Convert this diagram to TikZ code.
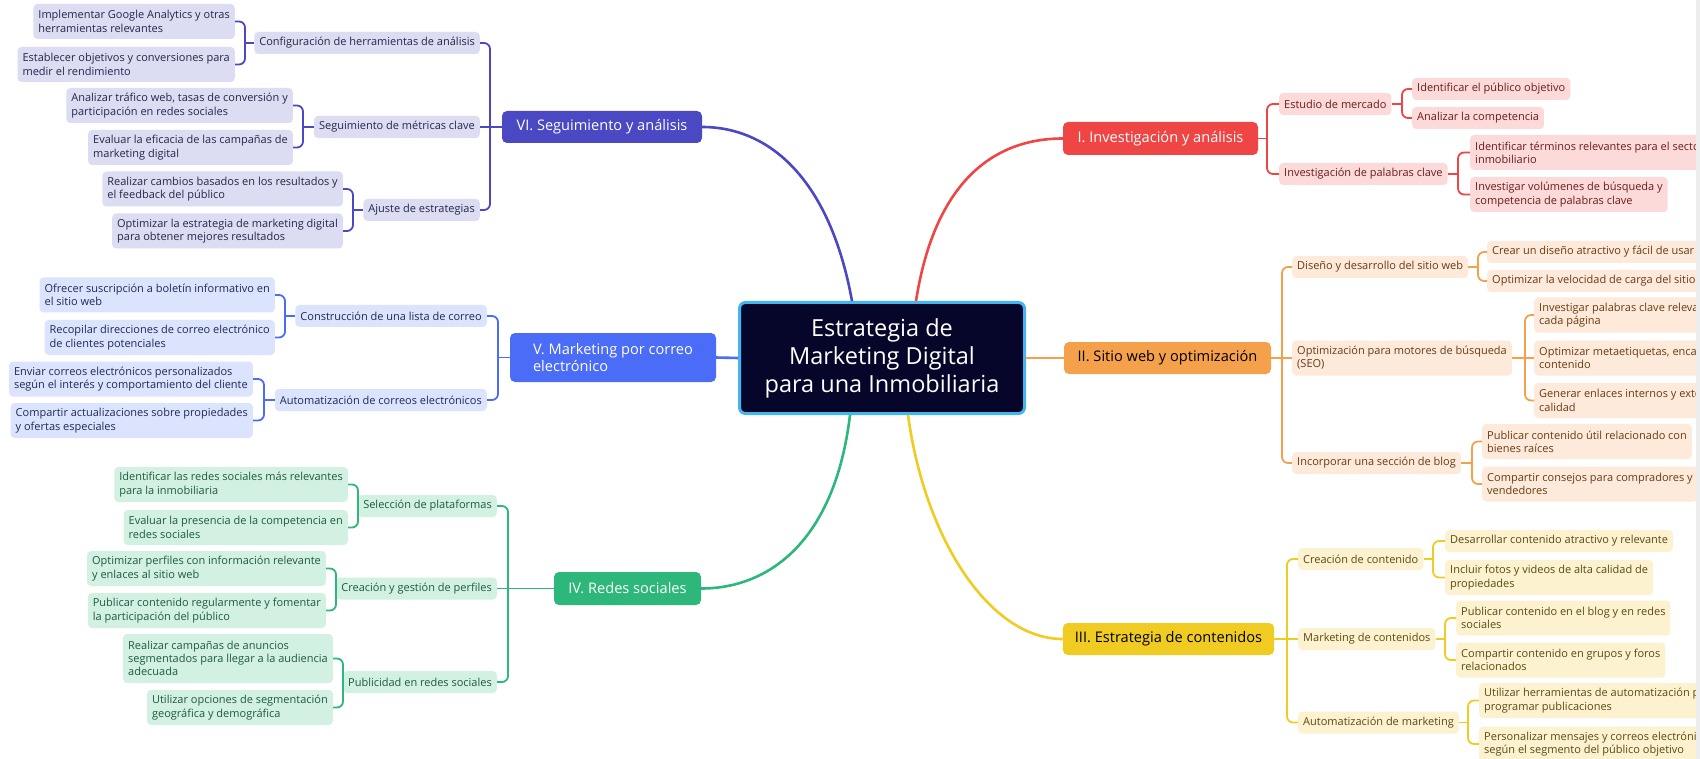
\documentclass[tikz,border=0pt]{standalone}
\usepackage{fontspec}
\setmainfont{Open Sans}
\usetikzlibrary{calc}
\definecolor{cVI}{HTML}{4B48C4}\definecolor{lVI}{HTML}{DCDCF3}\definecolor{tVI}{HTML}{26264A}
\definecolor{cV}{HTML}{4A6CF7}\definecolor{lV}{HTML}{DCE3FD}\definecolor{tV}{HTML}{1F2A55}
\definecolor{cIV}{HTML}{2DB77A}\definecolor{lIV}{HTML}{D2F1E3}\definecolor{tIV}{HTML}{1D5A3E}
\definecolor{cI}{HTML}{F04545}\definecolor{lI}{HTML}{FCDADA}\definecolor{tI}{HTML}{6A1C1C}
\definecolor{cII}{HTML}{F5A04B}\definecolor{lII}{HTML}{FDEADB}\definecolor{tII}{HTML}{6B3A12}
\definecolor{cIII}{HTML}{F0CC22}\definecolor{lIII}{HTML}{FCF2D0}\definecolor{tIII}{HTML}{5A4A10}
\definecolor{ctrfill}{HTML}{06062A}\definecolor{ctrdraw}{HTML}{45B5EE}
\tikzset{
  leaf/.style={rounded corners=4pt, inner xsep=5pt, inner ysep=3pt, align=left,
    font=\fontsize{11}{13.3}\selectfont, minimum height=22pt},
  two/.style={minimum height=35pt},
  three/.style={minimum height=49pt},
  mainnode/.style={rounded corners=5pt, minimum height=32pt, inner xsep=12pt,
    font=\fontsize{14.6}{17.5}\selectfont, align=left},
  L6/.style={leaf, fill=lVI, text=tVI, anchor=east},
  L5/.style={leaf, fill=lV, text=tV, anchor=east},
  L4/.style={leaf, fill=lIV, text=tIV, anchor=east},
  R1/.style={leaf, fill=lI, text=tI, anchor=west},
  R2/.style={leaf, fill=lII, text=tII, anchor=west},
  R3/.style={leaf, fill=lIII, text=tIII, anchor=west},
  br/.style={line width=1.8pt, rounded corners=6pt},
  curve/.style={line width=2.6pt},
}
\begin{document}
\begin{tikzpicture}[x=1pt,y=-1pt]
\useasboundingbox (0,0) rectangle (1700,759);
\fill[white] (0,0) rectangle (1700,759);
\begin{scope}
\clip (0,0) rectangle (1696,759);
% centre
\node[draw=ctrdraw, line width=3pt, fill=ctrfill, text=white, rounded corners=6pt,
  minimum width=285pt, minimum height=111pt, align=center,
  font=\fontsize{23.5}{28}\selectfont] (ctr) at (882,358)
  {Estrategia de\\Marketing Digital\\para una Inmobiliaria};
% main nodes
\node[mainnode, fill=cVI, text=white, minimum width=200pt] (m6) at (602,127) {VI. Seguimiento y análisis};
\node[mainnode, fill=cV, text=white, minimum width=206pt, minimum height=49pt] (m5) at (613,357.5) {V. Marketing por correo\\electrónico};
\node[mainnode, fill=cIV, text=white, minimum width=147pt, minimum height=33pt] (m4) at (627.5,588.5) {IV. Redes sociales};
\node[mainnode, fill=cI, text=white, minimum width=195pt, minimum height=33pt] (m1) at (1160.5,138.5) {I. Investigación y análisis};
\node[mainnode, fill=cII, text=black, minimum width=207pt] (m2) at (1167.5,358) {II. Sitio web y optimización};
\node[mainnode, fill=cIII, text=black, minimum width=209pt] (m3) at (1168.5,639) {III. Estrategia de contenidos};
% main curves
\draw[curve, cVI] ($(ctr.north)+(-30,0)$) .. controls (830,180) and (770,127) .. (m6.east);
\draw[curve, cI] ($(ctr.north)+(34,0)$) .. controls (935,180) and (995,138.5) .. (m1.west);
\draw[curve, cIV] ($(ctr.south)+(-32,0)$) .. controls (835,540) and (770,588.5) .. (m4.east);
\draw[curve, cIII] ($(ctr.south)+(26,0)$) .. controls (925,540) and (990,639) .. (m3.west);
\draw[curve, cV] (ctr.west) -- (m5.east);
\draw[curve, cII] (ctr.east) -- (m2.west);

% ===== VI =====
\node[L6] (s61) at (480,43) {Configuración de herramientas de análisis};
\node[L6] (s62) at (480,127) {Seguimiento de métricas clave};
\node[L6] (s63) at (480,210) {Ajuste de estrategias};
\node[L6,two] (l611) at (235,21.5) {Implementar Google Analytics y otras\\herramientas relevantes};
\node[L6,two] (l612) at (235,64.5) {Establecer objetivos y conversiones para\\medir el rendimiento};
\node[L6,two] (l621) at (293,105.5) {Analizar tráfico web, tasas de conversión y\\participación en redes sociales};
\node[L6,two] (l622) at (293,147.5) {Evaluar la eficacia de las campañas de\\marketing digital};
\node[L6,two] (l631) at (343,189) {Realizar cambios basados en los resultados y\\el feedback del público};
\node[L6,two] (l632) at (343,231) {Optimizar la estrategia de marketing digital\\para obtener mejores resultados};
\coordinate (b6) at (490,127);
\coordinate (k61) at (245,43);
\coordinate (k62) at (303,127);
\coordinate (k63) at (353,210);
\begin{scope}[draw=cVI]
\draw[br] (m6.west) -- (b6);
\draw[br] (s61.east) -| (b6) |- (s63.east);
\draw[br] (s62.east) -- (b6);
\draw[br] (s61.west) -- (k61);
\draw[br] (l611.east) -| (k61) |- (l612.east);
\draw[br] (s62.west) -- (k62);
\draw[br] (l621.east) -| (k62) |- (l622.east);
\draw[br] (s63.west) -- (k63);
\draw[br] (l631.east) -| (k63) |- (l632.east);
\end{scope}

% ===== V =====
\node[L5] (s51) at (487,316) {Construcción de una lista de correo};
\node[L5] (s52) at (487,400) {Automatización de correos electrónicos};
\node[L5,two] (l511) at (275,295) {Ofrecer suscripción a boletín informativo en\\el sitio web};
\node[L5,two] (l512) at (275,337.5) {Recopilar direcciones de correo electrónico\\de clientes potenciales};
\node[L5,two] (l521) at (253,379) {Enviar correos electrónicos personalizados\\según el interés y comportamiento del cliente};
\node[L5,two] (l522) at (253,420.5) {Compartir actualizaciones sobre propiedades\\y ofertas especiales};
\coordinate (b5) at (498,357.5);
\coordinate (k51) at (285,316);
\coordinate (k52) at (264,400);
\begin{scope}[draw=cV]
\draw[br] (m5.west) -- (b5);
\draw[br] (s51.east) -| (b5) |- (s52.east);
\draw[br] (s51.west) -- (k51);
\draw[br] (l511.east) -| (k51) |- (l512.east);
\draw[br] (s52.west) -- (k52);
\draw[br] (l521.east) -| (k52) |- (l522.east);
\end{scope}

% ===== IV =====
\node[L4] (s41) at (497,506) {Selección de plataformas};
\node[L4] (s42) at (497,588.5) {Creación y gestión de perfiles};
\node[L4] (s43) at (497,682) {Publicidad en redes sociales};
\node[L4,two] (l411) at (348,484.5) {Identificar las redes sociales más relevantes\\para la inmobiliaria};
\node[L4,two] (l412) at (348,527.5) {Evaluar la presencia de la competencia en\\redes sociales};
\node[L4,two] (l421) at (326,568.5) {Optimizar perfiles con información relevante\\y enlaces al sitio web};
\node[L4,two] (l422) at (326,610.5) {Publicar contenido regularmente y fomentar\\la participación del público};
\node[L4,three] (l431) at (333,658.5) {Realizar campañas de anuncios\\segmentados para llegar a la audiencia\\adecuada};
\node[L4,two] (l432) at (333,707.5) {Utilizar opciones de segmentación\\geográfica y demográfica};
\coordinate (b4) at (508,588.5);
\coordinate (k41) at (358,506);
\coordinate (k42) at (336,588.5);
\coordinate (k43) at (343,682);
\begin{scope}[draw=cIV]
\draw[br] (m4.west) -- (b4);
\draw[br] (s41.east) -| (b4) |- (s43.east);
\draw[br] (s42.east) -- (b4);
\draw[br] (s41.west) -- (k41);
\draw[br] (l411.east) -| (k41) |- (l412.east);
\draw[br] (s42.west) -- (k42);
\draw[br] (l421.east) -| (k42) |- (l422.east);
\draw[br] (s43.west) -- (k43);
\draw[br] (l431.east) -| (k43) |- (l432.east);
\end{scope}

% ===== I =====
\node[R1] (s11) at (1279,104) {Estudio de mercado};
\node[R1] (s12) at (1279,174) {Investigación de palabras clave};
\node[R1] (l111) at (1412,89) {Identificar el público objetivo};
\node[R1] (l112) at (1412,118) {Analizar la competencia};
\node[R1,two] (l121) at (1470,152.5) {Identificar términos relevantes para el sector\\inmobiliario};
\node[R1,two] (l122) at (1470,194.5) {Investigar volúmenes de búsqueda y\\competencia de palabras clave};
\coordinate (b1) at (1267,138.5);
\coordinate (k11) at (1402,104);
\coordinate (k12) at (1458,174);
\begin{scope}[draw=cI]
\draw[br] (m1.east) -- (b1);
\draw[br] (s11.west) -| (b1) |- (s12.west);
\draw[br] (s11.east) -- (k11);
\draw[br] (l111.west) -| (k11) |- (l112.west);
\draw[br] (s12.east) -- (k12);
\draw[br] (l121.west) -| (k12) |- (l122.west);
\end{scope}

% ===== II =====
\node[R2] (s21) at (1292,267) {Diseño y desarrollo del sitio web};
\node[R2,two] (s22) at (1292,358) {Optimización para motores de búsqueda\\(SEO)};
\node[R2] (s23) at (1292,463) {Incorporar una sección de blog};
\node[R2] (l211) at (1487,252) {Crear un diseño atractivo y fácil de usar};
\node[R2] (l212) at (1487,281) {Optimizar la velocidad de carga del sitio};
\node[R2,two] (l221) at (1534,315) {Investigar palabras clave relevantes para\\cada página};
\node[R2,two] (l222) at (1534,358) {Optimizar metaetiquetas, encabezados y\\contenido};
\node[R2,two] (l223) at (1534,400.5) {Generar enlaces internos y externos de\\calidad};
\node[R2,two] (l231) at (1482,441.5) {Publicar contenido útil relacionado con\\bienes raíces};
\node[R2,two] (l232) at (1482,484) {Compartir consejos para compradores y\\vendedores};
\coordinate (b2) at (1282,358);
\coordinate (k21) at (1478,267);
\coordinate (k22) at (1525,358);
\coordinate (k23) at (1472,463);
\begin{scope}[draw=cII]
\draw[br] (m2.east) -- (b2);
\draw[br] (s21.west) -| (b2) |- (s23.west);
\draw[br] (s22.west) -- (b2);
\draw[br] (s21.east) -- (k21);
\draw[br] (l211.west) -| (k21) |- (l212.west);
\draw[br] (s22.east) -- (k22);
\draw[br] (l221.west) -| (k22) |- (l223.west);
\draw[br] (l222.west) -- (k22);
\draw[br] (s23.east) -- (k23);
\draw[br] (l231.west) -| (k23) |- (l232.west);
\end{scope}

% ===== III =====
\node[R3] (s31) at (1298,559) {Creación de contenido};
\node[R3] (s32) at (1298,639) {Marketing de contenidos};
\node[R3] (s33) at (1298,722.5) {Automatización de marketing};
\node[R3] (l311) at (1445,541) {Desarrollar contenido atractivo y relevante};
\node[R3,two] (l312) at (1445,577.5) {Incluir fotos y videos de alta calidad de\\propiedades};
\node[R3,two] (l321) at (1456,618) {Publicar contenido en el blog y en redes\\sociales};
\node[R3,two] (l322) at (1456,660) {Compartir contenido en grupos y foros\\relacionados};
\node[R3,two] (l331) at (1479,700.5) {Utilizar herramientas de automatización para\\programar publicaciones};
\node[R3,two] (l332) at (1479,744) {Personalizar mensajes y correos electrónicos\\según el segmento del público objetivo};
\coordinate (b3) at (1287,639);
\coordinate (k31) at (1433,559);
\coordinate (k32) at (1445,639);
\coordinate (k33) at (1468,722.5);
\begin{scope}[draw=cIII]
\draw[br] (m3.east) -- (b3);
\draw[br] (s31.west) -| (b3) |- (s33.west);
\draw[br] (s32.west) -- (b3);
\draw[br] (s31.east) -- (k31);
\draw[br] (l311.west) -| (k31) |- (l312.west);
\draw[br] (s32.east) -- (k32);
\draw[br] (l321.west) -| (k32) |- (l322.west);
\draw[br] (s33.east) -- (k33);
\draw[br] (l331.west) -| (k33) |- (l332.west);
\end{scope}
\end{scope}
\fill[black!7] (1696,0) rectangle (1700,759);
\end{tikzpicture}
\end{document}
